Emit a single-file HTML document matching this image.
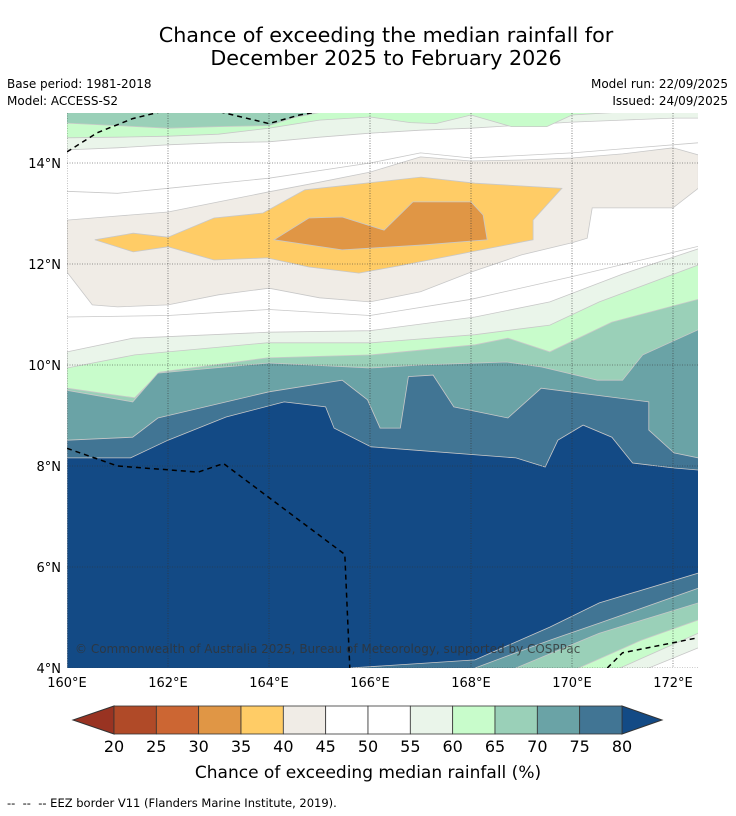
<!DOCTYPE html>
<html><head><meta charset="utf-8"><style>
body{margin:0;background:#fff;font-family:"Liberation Sans","DejaVu Sans",sans-serif;}
svg{display:block}
</style></head><body>
<svg id="chart" width="736" height="816" viewBox="0 0 736 816" xmlns="http://www.w3.org/2000/svg" font-family="DejaVu Sans, Liberation Sans, sans-serif">
<text x="386" y="42" font-size="20.7" text-anchor="middle">Chance of exceeding the median rainfall for</text>
<text x="386" y="65" font-size="20.7" text-anchor="middle">December 2025 to February 2026</text>
<text x="7" y="88" font-size="12">Base period: 1981-2018</text>
<text x="7" y="105" font-size="12">Model: ACCESS-S2</text>
<text x="728" y="88" font-size="12" text-anchor="end">Model run: 22/09/2025</text>
<text x="728" y="105" font-size="12" text-anchor="end">Issued: 24/09/2025</text>
<defs><clipPath id="mapclip"><rect x="67" y="113" width="631" height="555"/></clipPath></defs>
<g id="map" clip-path="url(#mapclip)">
<rect x="67" y="113" width="631" height="555" fill="#fff"/>
</g>
<text x="75" y="653" font-size="12" fill="#333" opacity="0.8">© Commonwealth of Australia 2025, Bureau of Meteorology, supported by COSPPac</text>
<g id="axes" font-size="13"></g>
<g id="cbar"></g>
<text x="368" y="778" font-size="17" text-anchor="middle">Chance of exceeding median rainfall (%)</text>
<text x="7" y="807" font-size="11.5" xml:space="preserve">--  --  -- EEZ border V11 (Flanders Marine Institute, 2019).</text>
</svg>
<script>
const north55 = [[160,14.26],[161,14.3],[162,14.36],[163,14.4],[164,14.42],[165,14.51],[166,14.59],[167,14.65],[168,14.69],[169,14.75],[170,14.81],[171,14.85],[172,14.89],[172.5,14.89]];
const north60 = [[160,14.5],[161,14.51],[162,14.53],[163,14.57],[164,14.69],[165,14.85],[166,14.91],[166.8,14.8],[167.3,14.78],[168,14.95],[168.8,14.72],[169.5,14.72],[170,14.95],[172.5,15.1]];
const north65 = [[160,14.79],[161,14.74],[162,14.69],[163,14.72],[164,14.74],[164.5,14.9],[165,15.0],[172.5,15.0]];
const beigeTop = [[160,12.87],[161,12.95],[162,13.03],[163,13.23],[164,13.43],[165,13.62],[166,13.82],[167,14.12],[168,14.04],[169,14.06],[170,14.1],[171,14.18],[172,14.3],[172.5,14.16]];
const beigeBottom = [[160,11.84],[160.5,11.19],[161,11.15],[162,11.19],[163,11.39],[164,11.52],[165,11.33],[166,11.25],[167,11.45],[168,11.84],[169,12.18],[170,12.42],[170.3,12.51],[170.4,13.11],[172,13.11],[172.5,13.5]];
const orange = [[160.55,12.48],[161.31,12.61],[162,12.53],[162.91,12.91],[163.88,13.01],[164.71,13.47],[167.01,13.72],[168.08,13.6],[169.8,13.5],[169.23,12.87],[169.23,12.48],[168,12.24],[166.67,11.98],[165.78,11.82],[164.79,11.94],[163.96,12.12],[162.91,12.08],[162,12.34],[161.31,12.24]];
const darkOrange = [[164.1,12.48],[164.79,12.91],[165.45,12.93],[166.28,12.67],[166.85,13.23],[168,13.23],[168.24,12.97],[168.32,12.48],[167.09,12.38],[165.45,12.28]];
const south55 = [[160,10.26],[161.3,10.53],[164,10.65],[166,10.68],[168.08,10.95],[169.56,11.25],[171,11.8],[172.5,12.3]];
const south60 = [[160,9.94],[161.34,10.2],[163.96,10.44],[166.02,10.44],[168.08,10.6],[169.56,10.79],[170.54,11.25],[172.5,11.98]];
const south65 = [[160,9.54],[161.34,9.35],[161.84,9.86],[163.96,10.14],[166.02,10.2],[168.08,10.4],[168.73,10.53],[169.56,10.26],[170.79,10.85],[172.5,11.3]];
const south70 = [[160,9.5],[161.3,9.27],[161.8,9.84],[164,10.04],[166,9.94],[167,10.0],[168.7,10.06],[169.4,9.96],[170.5,9.7],[171,9.7],[171.4,10.2],[172.5,10.7]];
const south75 = [[160,8.51],[161.3,8.57],[161.8,8.95],[164,9.47],[165.45,9.7],[165.95,9.31],[166.2,8.75],[166.6,8.75],[166.76,9.77],[167.25,9.8],[167.66,9.17],[168.73,8.95],[169.39,9.54],[171.52,9.27],[171.52,8.71],[172.02,8.26],[172.5,8.16]];
const south80 = [[160,8.16],[161.26,8.16],[162,8.51],[163.15,8.97],[164.3,9.27],[165.12,9.17],[165.29,8.75],[166.02,8.38],[168.89,8.16],[169.47,7.98],[169.72,8.51],[170.22,8.81],[170.79,8.57],[171.2,8.06],[172.02,7.96],[172.5,7.92]];
const bottom80 = [[165.6,4.0],[168.08,4.16],[169.56,4.81],[170.54,5.29],[172.5,5.88]];
const bottom75 = [[168.08,4.0],[169.56,4.55],[170.54,4.89],[172.5,5.58]];
const bottom70 = [[168.89,4.0],[170.54,4.69],[172.5,5.29]];
const bottom65 = [[170.13,4.0],[171.37,4.55],[172.5,4.95]];
const bottom60 = [[170.95,4.0],[172.5,4.69]];
const bottom55 = [[171.52,4.0],[172.5,4.4]];
const lineNorth50 = [[160,13.44],[161,13.4],[162,13.5],[164,13.7],[166,14.0],[167,14.2],[168,14.1],[170,14.2],[172.5,14.4]];
const lineSouth50 = [[160,10.95],[162,10.98],[164,11.1],[166,10.98],[168,11.3],[170,11.75],[172.5,12.35]];
const eezNorth = [[160,14.22],[160.6,14.6],[161.3,14.88],[162,15.05],[163,15.02],[164,14.78],[164.6,14.95],[165.2,15.05]];
const eezSouth = [[160,8.35],[161,8.0],[162.6,7.88],[163.1,8.05],[165.5,6.25],[165.6,4.0]];
const eezSE = [[170.7,4.0],[171,4.3],[172.5,4.6]];
const colorLevels = ["20","25","30","35","40","45","50","55","60","65","70","75","80"];
const colorFills = ["#b04a28","#cc6633","#e09645","#ffcc66","#f0ece6","#ffffff","#ffffff","#eaf5ea","#c8fccb","#9ad0b8","#6aa3a6","#417594"];
const lonTicks = [160,162,164,166,168,170,172];
const latTicks = [4,6,8,10,12,14];

const NS = "http://www.w3.org/2000/svg";
const X0=67, Y14=163, PX=50.5;
function xs(lon){return X0+(lon-160)*PX;}
function ys(lat){return Y14-(lat-14)*PX;}
function pts(arr){return arr.map(p=>xs(p[0]).toFixed(1)+","+ys(p[1]).toFixed(1));}
const map=document.getElementById('map');
function poly(points, fill, name){
  const p=document.createElementNS(NS,'polygon');
  p.setAttribute('points',points.join(' '));
  p.setAttribute('fill',fill);
  p.setAttribute('stroke','#c8c8c8');
  p.setAttribute('stroke-width','0.8');
  
  
  map.appendChild(p);
}
function fillAbove(arr,fill,name){poly(pts(arr).concat([xs(172.6)+","+ys(15.2), xs(159.9)+","+ys(15.2)]),fill,name);}
function fillBelow(arr,fill,name){const a=pts(arr);const l=arr[0],r=arr[arr.length-1];poly(a.concat([xs(r[0]+0.2)+","+ys(r[1]),xs(r[0]+0.2)+","+ys(3.8),xs(l[0])+","+ys(3.8)]),fill,name);}
function fillBottom(arr,fill,name){const a=pts(arr);const l=arr[0],r=arr[arr.length-1];poly([xs(l[0])+","+ys(3.8)].concat(a).concat([xs(r[0]+0.2)+","+ys(r[1]),xs(r[0]+0.2)+","+ys(3.8)]),fill,name);}
fillAbove(north55,"#eaf5ea","band-north-55");
fillAbove(north60,"#c8fccb","band-north-60");
fillAbove(north65,"#9ad0b8","band-north-65");
poly(pts(beigeTop).concat(pts(beigeBottom.slice().reverse())),"#f0ece6","band-40-45");
poly(pts(orange),"#ffcc66","band-35-40");
poly(pts(darkOrange),"#e09645","band-30-35");
fillBelow(south55,"#eaf5ea","band-south-55");
fillBelow(south60,"#c8fccb","band-south-60");
fillBelow(south65,"#9ad0b8","band-south-65");
fillBelow(south70,"#6aa3a6","band-south-70");
fillBelow(south75,"#417594","band-south-75");
fillBelow(south80,"#134a85","band-above-80");
fillBottom(bottom80,"#417594","band-bottom-75");
fillBottom(bottom75,"#6aa3a6","band-bottom-70");
fillBottom(bottom70,"#9ad0b8","band-bottom-65");
fillBottom(bottom65,"#c8fccb","band-bottom-60");
fillBottom(bottom60,"#eaf5ea","band-bottom-55");
fillBottom(bottom55,"#ffffff","band-bottom-50");
function line(arr,stroke,dash,w,name){
  const p=document.createElementNS(NS,'polyline');
  p.setAttribute('points',pts(arr).join(' '));
  p.setAttribute('fill','none');p.setAttribute('stroke',stroke);p.setAttribute('stroke-width',w);
  if(dash)p.setAttribute('stroke-dasharray',dash);
  
  
  map.appendChild(p);
}
line(lineNorth50,"#c8c8c8",null,0.8,"contour-north-50");
line(lineSouth50,"#c8c8c8",null,0.8,"contour-south-50");
lonTicks.forEach(l=>{
  const g=document.createElementNS(NS,'line');
  g.setAttribute('x1',xs(l));g.setAttribute('x2',xs(l));g.setAttribute('y1',113);g.setAttribute('y2',668);
  g.setAttribute('stroke','#333');g.setAttribute('stroke-width','0.6');g.setAttribute('stroke-dasharray','1,1.5');
  
  
  map.appendChild(g);
});
latTicks.forEach(l=>{
  const g=document.createElementNS(NS,'line');
  g.setAttribute('x1',67);g.setAttribute('x2',698);g.setAttribute('y1',ys(l));g.setAttribute('y2',ys(l));
  g.setAttribute('stroke','#333');g.setAttribute('stroke-width','0.6');g.setAttribute('stroke-dasharray','1,1.5');
  
  
  map.appendChild(g);
});
line(eezNorth,"#000","5,4",1.5,"eez-border-north");
line(eezSouth,"#000","5,4",1.5,"eez-border-south");
line(eezSE,"#000","5,4",1.5,"eez-border-southeast");
const axes=document.getElementById('axes');
lonTicks.forEach(l=>{
  const t=document.createElementNS(NS,'text');
  t.setAttribute('x',xs(l));t.setAttribute('y',687);t.setAttribute('text-anchor','middle');
  t.textContent=l+"°E";
  
  
  axes.appendChild(t);
});
latTicks.forEach(l=>{
  const t=document.createElementNS(NS,'text');
  t.setAttribute('x',61);t.setAttribute('y',ys(l)+5);t.setAttribute('text-anchor','end');
  t.textContent=l+"°N";
  
  
  axes.appendChild(t);
});
const cb=document.getElementById('cbar');
const CB0=114, CBW=(622-114)/12, CBY=706, CBH=28;
const lt=document.createElementNS(NS,'polygon');
lt.setAttribute('points',`${CB0},${CBY} ${CB0},${CBY+CBH} 73,${CBY+CBH/2}`);
lt.setAttribute('fill','#993322');lt.setAttribute('stroke','#333');


cb.appendChild(lt);
const rt=document.createElementNS(NS,'polygon');
rt.setAttribute('points',`622,${CBY} 622,${CBY+CBH} 662,${CBY+CBH/2}`);
rt.setAttribute('fill','#134a85');rt.setAttribute('stroke','#333');


cb.appendChild(rt);
colorFills.forEach((c,i)=>{
  const r=document.createElementNS(NS,'rect');
  r.setAttribute('x',CB0+i*CBW);r.setAttribute('y',CBY);r.setAttribute('width',CBW);r.setAttribute('height',CBH);
  r.setAttribute('fill',c);r.setAttribute('stroke','#333');r.setAttribute('stroke-width','0.8');
  
  
  cb.appendChild(r);
});
colorLevels.forEach((v,i)=>{
  const t=document.createElementNS(NS,'text');
  t.setAttribute('x',CB0+i*CBW);t.setAttribute('y',752);t.setAttribute('text-anchor','middle');t.setAttribute('font-size','16');
  t.textContent=v;
  
  
  cb.appendChild(t);
});
</script>
</body></html>
